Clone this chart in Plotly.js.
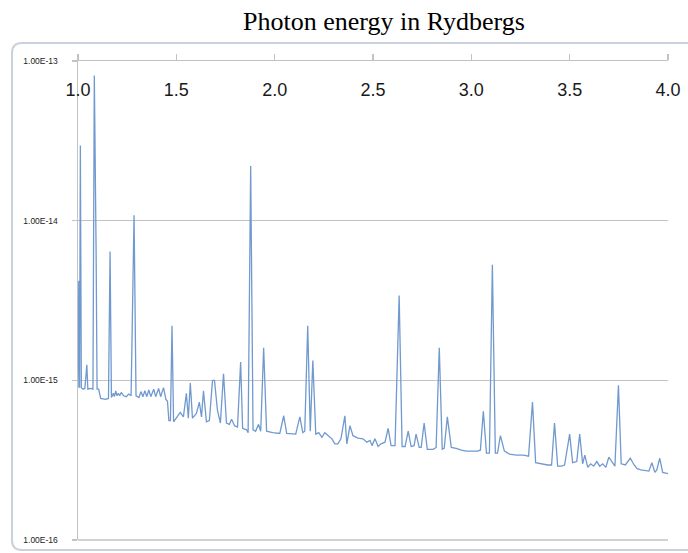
<!DOCTYPE html>
<html>
<head>
<meta charset="utf-8">
<script src="https://cdn.plot.ly/plotly-3.0.1.min.js"></script>
<style>html,body{margin:0;padding:0;background:#fff;}#chart{width:688px;height:553px;}</style>
</head>
<body>
<div id="chart"></div>
<script>
// Photon energy (Rydbergs)
const energy = [
1.000,1.004,1.008,1.012,1.017,1.027,1.035,1.045,1.050,1.062,1.076,1.083,1.092,1.097,1.105,1.115,1.140,1.155,1.163,1.170,
1.180,1.185,1.192,1.198,1.205,1.212,1.220,1.232,1.245,1.258,1.270,1.285,1.295,1.310,1.320,1.330,1.340,1.350,1.360,1.370,
1.385,1.395,1.410,1.420,1.435,1.447,1.455,1.462,1.470,1.478,1.486,
1.505,1.520,1.536,1.551,1.561,1.571,1.582,1.602,1.617,1.628,1.638,1.653,1.668,1.684,1.694,1.709,1.724,1.740,1.755,1.770,
1.781,1.796,1.811,1.827,1.837,1.857,1.865,1.878,1.890,1.903,1.918,1.929,1.944,1.959,1.990,2.026,2.046,2.061,2.107,2.128,
2.143,2.153,2.168,2.181,2.194,2.209,2.224,2.240,2.255,2.270,2.291,2.306,2.321,2.337,2.357,2.367,2.383,2.398,2.423,2.449,
2.469,2.485,2.495,2.510,2.526,2.541,2.561,2.577,2.592,2.612,2.633,2.648,2.663,2.679,2.694,2.709,2.719,2.735,2.745,2.760,
2.776,2.806,2.821,2.837,2.852,2.862,2.878,2.898,2.923,2.949,2.974,3.000,3.031,3.046,3.061,3.077,3.092,3.107,3.122,3.133,
3.148,3.168,3.194,3.230,3.265,3.291,3.311,3.327,3.357,3.388,3.408,3.423,3.439,3.459,3.474,3.500,3.515,3.536,3.551,3.566,
3.577,3.592,3.607,3.622,3.638,3.653,3.668,3.684,3.699,3.714,3.730,3.748,3.762,3.783,3.808,3.828,3.843,3.863,3.888,3.903,
3.918,3.933,3.943,3.958,3.973,3.990,4.000
];
// Flux (log scale)
const flux = [
9.0e-16,4.2e-15,9.0e-16,2.96e-14,9.0e-16,8.8e-16,8.9e-16,1.25e-15,8.8e-16,8.9e-16,8.8e-16,8.1e-14,6.7e-15,8.8e-16,8.8e-16,7.7e-16,7.6e-16,7.7e-16,6.4e-15,7.8e-16,
8.3e-16,7.9e-16,8.6e-16,8.0e-16,8.3e-16,8.0e-16,8.4e-16,8.0e-16,7.9e-16,8.2e-16,8.0e-16,1.08e-14,8.0e-16,7.8e-16,8.5e-16,7.9e-16,8.6e-16,7.9e-16,8.7e-16,7.9e-16,
8.8e-16,7.9e-16,8.9e-16,7.9e-16,9.0e-16,7.6e-16,7.4e-16,5.6e-16,5.6e-16,2.2e-15,5.5e-16,
6.0e-16,6.3e-16,5.9e-16,8.3e-16,5.8e-16,9.6e-16,5.8e-16,6.2e-16,7.3e-16,5.9e-16,8.6e-16,5.5e-16,5.6e-16,1.0e-15,1.0e-15,6.5e-16,5.4e-16,1.1e-15,5.4e-16,5.3e-16,
5.7e-16,5.2e-16,5.1e-16,1.3e-15,5.0e-16,4.9e-16,4.7e-16,2.2e-14,4.9e-16,4.8e-16,5.3e-16,4.8e-16,1.6e-15,4.8e-16,4.7e-16,4.65e-16,6.0e-16,4.65e-16,4.6e-16,5.9e-16,
4.7e-16,4.8e-16,2.2e-15,4.8e-16,1.33e-15,4.6e-16,4.7e-16,4.4e-16,4.7e-16,4.5e-16,4.3e-16,4.0e-16,4.0e-16,4.3e-16,6.0e-16,4.0e-16,5.2e-16,4.5e-16,4.35e-16,4.3e-16,
4.1e-16,4.2e-16,3.9e-16,4.3e-16,3.85e-16,4.0e-16,4.1e-16,5.0e-16,3.9e-16,3.9e-16,3.4e-15,3.85e-16,3.85e-16,4.8e-16,3.85e-16,3.9e-16,4.6e-16,3.8e-16,3.8e-16,5.4e-16,
3.7e-16,3.7e-16,3.8e-16,1.6e-15,3.7e-16,3.75e-16,5.9e-16,3.8e-16,3.75e-16,3.65e-16,3.6e-16,3.6e-16,3.6e-16,3.65e-16,6.4e-16,3.5e-16,3.5e-16,5.3e-15,3.5e-16,3.5e-16,
4.5e-16,3.6e-16,3.45e-16,3.4e-16,3.4e-16,3.35e-16,7.3e-16,3.05e-16,3.0e-16,2.95e-16,2.95e-16,5.4e-16,2.9e-16,2.9e-16,2.95e-16,4.6e-16,3.05e-16,3.1e-16,4.6e-16,3.0e-16,
3.4e-16,2.85e-16,3.0e-16,2.9e-16,3.1e-16,2.9e-16,3.0e-16,2.85e-16,3.3e-16,3.1e-16,2.9e-16,9.3e-16,3.0e-16,2.95e-16,3.25e-16,2.95e-16,2.8e-16,2.75e-16,2.7e-16,2.7e-16,
3.05e-16,2.65e-16,2.75e-16,3.25e-16,2.65e-16,2.6e-16,2.6e-16
];
const xTickVals = [1.0,1.5,2.0,2.5,3.0,3.5,4.0];
const xTickText = ['1.0','1.5','2.0','2.5','3.0','3.5','4.0'];
const yTickVals = [1e-16,1e-15,1e-14,1e-13];
const yTickText = ['1.00E-16','1.00E-15','1.00E-14','1.00E-13'];

const trace = {
  x: energy, y: flux, type: 'scatter', mode: 'lines',
  line: {color: '#7099cf', width: 1.3}, hoverinfo: 'x+y'
};
// empty trace so the label axis (x2) gets drawn
const labelAxisHolder = {
  x: [], y: [], xaxis: 'x2', yaxis: 'y', type: 'scatter', mode: 'lines',
  showlegend: false, hoverinfo: 'skip'
};

const layout = {
  width: 688, height: 553,
  margin: {l: 78, r: 20, t: 61, b: 13, pad: 0},
  paper_bgcolor: '#ffffff', plot_bgcolor: '#ffffff',
  showlegend: false,
  title: {
    text: 'Photon energy in Rydbergs',
    font: {family: 'Liberation Serif, Times New Roman, serif', size: 26, color: '#000'},
    xref: 'container', x: 0.558, xanchor: 'center',
    yref: 'container', y: 0.962, yanchor: 'middle'
  },
  xaxis: {
    type: 'linear', range: [1, 4], side: 'top',
    tickvals: xTickVals, ticktext: xTickText,
    ticks: 'outside', ticklen: 6, tickwidth: 1.5, tickcolor: '#c3c3c3',
    showticklabels: false,
    showline: true, linecolor: '#c3c3c3', linewidth: 1.5,
    showgrid: false, zeroline: false, fixedrange: true
  },
  xaxis2: {
    type: 'linear', range: [1, 4], overlaying: 'x', anchor: 'free', position: 0.967, side: 'bottom',
    tickvals: xTickVals, ticktext: xTickText,
    ticks: '', showline: false, showgrid: false, zeroline: false, fixedrange: true,
    tickfont: {family: 'Liberation Sans, Arial, sans-serif', size: 18, color: '#1a1a1a'}
  },
  yaxis: {
    type: 'log', range: [-16, -13],
    tickvals: yTickVals, ticktext: yTickText,
    ticks: 'outside', ticklen: 5, tickwidth: 1.5, tickcolor: '#c3c3c3',
    ticklabelstandoff: 12,
    tickfont: {family: 'Liberation Sans, Arial, sans-serif', size: 8.5, color: '#222'},
    showline: true, linecolor: '#c3c3c3', linewidth: 1.5,
    showgrid: true, gridcolor: '#c3c3c3', gridwidth: 1.5,
    zeroline: false, fixedrange: true
  },
  shapes: [
    {type: 'path', xref: 'paper', yref: 'paper', layer: 'below',
     path: 'M 1.06,1.0376 L -0.095,1.0376 Q -0.1119,1.0376 -0.1119,1.0167 L -0.1119,0.0000 Q -0.1119,-0.0209 -0.095,-0.0209 L 1.06,-0.0209',
     line: {color: '#c9d1dc', width: 2}},
    {type: 'line', xref: 'paper', yref: 'paper', x0: 0, x1: 1, y0: 0, y1: 0, layer: 'below',
     line: {color: '#c3c3c3', width: 1.5}}
  ]
};

Plotly.newPlot('chart', [trace, labelAxisHolder], layout, {displayModeBar: false, staticPlot: true});
</script>
</body>
</html>
